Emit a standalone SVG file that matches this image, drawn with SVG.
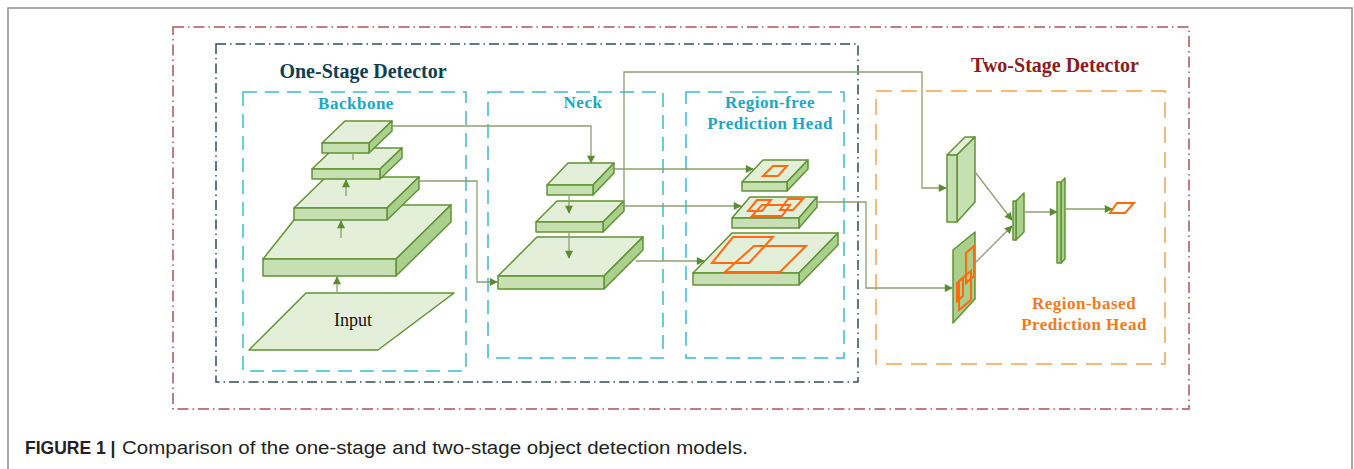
<svg xmlns="http://www.w3.org/2000/svg" width="1354" height="469" viewBox="0 0 1354 469">
  <style>
    .frame { fill: none; stroke: #8c8c8c; stroke-width: 1.5; }
    .outer { fill: none; stroke: #a6545c; stroke-width: 1.5; stroke-dasharray: 11 4 1.5 4; }
    .onestage { fill: none; stroke: #2f4e5c; stroke-width: 1.5; stroke-dasharray: 10 4 1.5 4; }
    .module { fill: none; stroke: #3dbad0; stroke-width: 1.5; stroke-dasharray: 14 8; }
    .twohead { fill: none; stroke: #f5a24e; stroke-width: 1.5; stroke-dasharray: 16 9; }
    .top { fill: #e3efd8; stroke: #609236; stroke-width: 1.5; stroke-linejoin: round; }
    .front { fill: #c6e0b2; stroke: #609236; stroke-width: 1.5; stroke-linejoin: round; }
    .side { fill: #aad18c; stroke: #609236; stroke-width: 1.5; stroke-linejoin: round; }
    .plane { fill: #a9cf8a; stroke: #609236; stroke-width: 1.5; stroke-linejoin: round; }
    .box { fill: none; stroke: #ff6a10; stroke-width: 2; stroke-linejoin: miter; }
    .link { fill: none; stroke: #8c9f72; stroke-width: 1.3; }
    .title { font-family: "Liberation Serif", serif; font-weight: bold; font-size: 20px; text-anchor: middle; }
    .label { font-family: "Liberation Serif", serif; font-weight: bold; font-size: 17px; letter-spacing: 0.5px; text-anchor: middle; }
    .cyan { fill: #21a6c2; }
    .orange { fill: #f27a1e; }
    .caption { font-family: "Liberation Sans", Arial, sans-serif; font-size: 17.5px; fill: #222; }
  </style>
  <defs>
    <marker id="arrow" viewBox="0 0 10 10" refX="9" refY="5" markerWidth="9" markerHeight="8" markerUnits="userSpaceOnUse" orient="auto">
      <path d="M0,0 L10,5 L0,10 Z" fill="#5a8c32"/>
    </marker>
  </defs>

  <rect width="1354" height="469" fill="#ffffff"/>
  <rect class="frame" x="8" y="8" width="1344" height="480"/>

  <!-- detector frames -->
  <g id="two-stage-detector">
    <rect class="outer" x="173" y="27" width="1016" height="382"/>
    <text class="title" x="1055" y="72" fill="#8b1c1c">Two-Stage Detector</text>
  </g>
  <g id="one-stage-detector">
    <rect class="onestage" x="216" y="44" width="642" height="338"/>
    <text class="title" x="363" y="78" fill="#0f3e50">One-Stage Detector</text>
  </g>

  <!-- backbone -->
  <g id="backbone">
    <rect class="module" x="243" y="92" width="223" height="279"/>
    <text class="label cyan" x="356" y="109">Backbone</text>
    <polygon class="top" points="249,350 378,350 454,293 306,293"/>
    <text x="353" y="326" font-family="Liberation Serif, serif" font-size="18" text-anchor="middle" fill="#111">Input</text>
    <!-- level 4 -->
    <polygon class="top" points="263,259 396,259 451,205 306,205"/>
    <polygon class="side" points="396,259 451,205 451,222 396,276"/>
    <rect class="front" x="263" y="259" width="133" height="17"/>
    <!-- level 3 -->
    <polygon class="top" points="294,208 387,208 419,177 326,177"/>
    <polygon class="side" points="387,208 419,177 419,189 387,220"/>
    <rect class="front" x="294" y="208" width="93" height="12"/>
    <!-- level 2 -->
    <polygon class="top" points="312,169 380,169 402,148 334,148"/>
    <polygon class="side" points="380,169 402,148 402,158 380,179"/>
    <rect class="front" x="312" y="169" width="68" height="10"/>
    <!-- level 1 -->
    <polygon class="top" points="322,143 369,143 392,121 345,121"/>
    <polygon class="side" points="369,143 392,121 392,131 369,153"/>
    <rect class="front" x="322" y="143" width="47" height="10"/>
  </g>

  <!-- neck -->
  <g id="neck">
    <rect class="module" x="488" y="92" width="175" height="266"/>
    <text class="label cyan" x="583" y="108">Neck</text>
    <polygon class="top" points="498,276 604,276 643,237 537,237"/>
    <polygon class="side" points="604,276 643,237 643,250 604,289"/>
    <rect class="front" x="498" y="276" width="106" height="13"/>
    <polygon class="top" points="536,222 603,222 624,201 557,201"/>
    <polygon class="side" points="603,222 624,201 624,211 603,232"/>
    <rect class="front" x="536" y="222" width="67" height="10"/>
    <polygon class="top" points="547,185 593,185 614,163 568,163"/>
    <polygon class="side" points="593,185 614,163 614,173 593,195"/>
    <rect class="front" x="547" y="185" width="46" height="10"/>
  </g>

  <!-- region-free prediction head -->
  <g id="region-free-head">
    <rect class="module" x="686" y="92" width="158" height="266"/>
    <text class="label cyan" x="770" y="108">Region-free</text>
    <text class="label cyan" x="770" y="129">Prediction Head</text>
    <!-- large map -->
    <polygon class="top" points="693,273 799,273 838,233 732,233"/>
    <polygon class="side" points="799,273 838,233 838,245 799,285"/>
    <rect class="front" x="693" y="273" width="106" height="12"/>
    <polygon class="box" points="733,237 773,237 749,263 712,263"/>
    <polygon class="box" points="754,246 806,246 780,272 725,272"/>
    <!-- middle map -->
    <polygon class="top" points="732,218 799,218 817,197 750,197"/>
    <polygon class="side" points="799,218 817,197 817,207 799,228"/>
    <rect class="front" x="732" y="218" width="67" height="10"/>
    <polygon class="box" points="757,200 771,200 762,211 748,211"/>
    <polygon class="box" points="788,199 803,199 793,210 780,210"/>
    <polygon class="box" points="762,205 790,205 782,216 752,216"/>
    <!-- small map -->
    <polygon class="top" points="742,182 787,182 808,160 763,160"/>
    <polygon class="side" points="787,182 808,160 808,169 787,191"/>
    <rect class="front" x="742" y="182" width="45" height="9"/>
    <polygon class="box" points="773,166 787,166 778,176 763,176"/>
  </g>

  <!-- region-based prediction head -->
  <g id="region-based-head">
    <rect class="twohead" x="876" y="91" width="289" height="273"/>
    <text class="label orange" x="1084" y="309">Region-based</text>
    <text class="label orange" x="1084" y="330">Prediction Head</text>
  </g>
  <g id="feature-map">
    <polygon class="top" points="947,155 957,155 975,137 965,137"/>
    <polygon class="front" points="957,155 975,137 975,202 957,222"/>
    <rect class="front" x="947" y="155" width="10" height="67"/>
  </g>
  <g id="proposal-map">
    <polygon class="plane" points="953,250 975,232 975,299 953,323"/>
    <polygon class="box" points="966,253 974,246 974,276 966,283"/>
    <polygon class="box" points="957,283 963,278 963,296 957,301"/>
    <polygon class="box" points="959,281 971,271 971,300 959,310"/>
  </g>
  <g id="roi-features">
    <polygon class="side" points="1016,201 1024,193 1024,232 1016,240"/>
    <rect class="side" x="1013" y="201" width="3" height="39"/>
  </g>
  <g id="fc-layer">
    <polygon class="side" points="1061,182 1065,178 1065,259 1061,263"/>
    <rect class="side" x="1057" y="182" width="4" height="81"/>
  </g>
  <g id="output-box">
    <polygon class="box" points="1117,203 1134,203 1125,213 1110,213"/>
  </g>

  <!-- connectors -->
  <g id="connectors">
    <line class="link" x1="337" y1="292" x2="337" y2="277" marker-end="url(#arrow)"/>
    <line class="link" x1="341" y1="238" x2="341" y2="221" marker-end="url(#arrow)"/>
    <line class="link" x1="346" y1="196" x2="346" y2="180" marker-end="url(#arrow)"/>
    <line class="link" x1="353" y1="160" x2="353" y2="154"/>
    <polyline class="link" points="392,126 591,126 591,163" marker-end="url(#arrow)"/>
    <polyline class="link" points="419,181 477,181 477,282 497,282" marker-end="url(#arrow)"/>
    <line class="link" x1="569" y1="196" x2="569" y2="213" marker-end="url(#arrow)"/>
    <line class="link" x1="569" y1="233" x2="569" y2="258" marker-end="url(#arrow)"/>
    <line class="link" x1="612" y1="169" x2="753" y2="169" marker-end="url(#arrow)"/>
    <line class="link" x1="622" y1="206" x2="741" y2="206" marker-end="url(#arrow)"/>
    <polyline class="link" points="624,206 624,72 922,72 922,188 946,188" marker-end="url(#arrow)"/>
    <line class="link" x1="636" y1="261" x2="704" y2="261" marker-end="url(#arrow)"/>
    <polyline class="link" points="816,202 866,202 866,288 952,288" marker-end="url(#arrow)"/>
    <line class="link" x1="975" y1="172" x2="1012" y2="220" marker-end="url(#arrow)"/>
    <line class="link" x1="975" y1="263" x2="1012" y2="226" marker-end="url(#arrow)"/>
    <line class="link" x1="1024" y1="212" x2="1057" y2="212" marker-end="url(#arrow)"/>
    <line class="link" x1="1065" y1="209" x2="1112" y2="209" marker-end="url(#arrow)"/>
  </g>

  <text class="caption" x="25" y="454" font-weight="bold">FIGURE 1 |</text>
  <text class="caption" x="122" y="454" font-size="18" textLength="626" lengthAdjust="spacingAndGlyphs">Comparison of the one-stage and two-stage object detection models.</text>
</svg>
